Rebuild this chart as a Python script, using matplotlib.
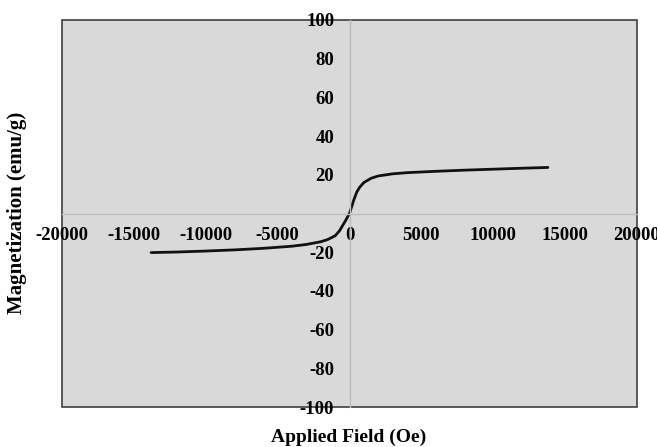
import matplotlib
matplotlib.use("Agg")
import matplotlib.pyplot as plt
import numpy as np

# Data (Applied Field in Oe, Magnetization in emu/g)
field = [-13800, -12000, -10000, -8000, -6000, -4000, -3000, -2000, -1500,
         -1000, -700, -500, -300, 0, 300, 500, 700, 1000, 1500, 2000, 3000,
         4000, 6000, 8000, 10000, 12000, 13800]
magnetization = [-20.2, -19.9, -19.4, -18.8, -18.0, -16.9, -16.0, -14.6, -13.4,
                 -11.5, -9.0, -6.5, -4.0, 0.0, 7.0, 11.0, 13.5, 16.0, 18.2, 19.4, 20.5,
                 21.1, 21.8, 22.4, 22.9, 23.4, 23.8]

x_ticks = [-20000, -15000, -10000, -5000, 0, 5000, 10000, 15000, 20000]
y_ticks = [-100, -80, -60, -40, -20, 20, 40, 60, 80, 100]
x_label = "Applied Field (Oe)"
y_label = "Magnetization (emu/g)"

plt.rcParams['font.family'] = ['Liberation Serif', 'DejaVu Serif']
plt.rcParams['font.weight'] = 'bold'

fig = plt.figure(figsize=(6.57, 4.47), dpi=100)
ax = fig.add_axes([62/657, 40/447, 575/657, 387/447])
ax.set_facecolor('#d9d9d9')
ax.patch.set_edgecolor('#404040')
ax.patch.set_linewidth(1.2)

ax.plot(field, magnetization, color='#111111', linewidth=2.0, solid_capstyle='round')

ax.set_xlim(-20000, 20000)
ax.set_ylim(-100, 100)

for s in ['top', 'right']:
    ax.spines[s].set_visible(False)
ax.spines['left'].set_position(('data', 0))
ax.spines['bottom'].set_position(('data', 0))
for s in ['left', 'bottom']:
    ax.spines[s].set_color('#bdbdbd')
    ax.spines[s].set_linewidth(1.0)

ax.set_xticks(x_ticks)
ax.set_xticklabels([str(v) for v in x_ticks])
ax.set_yticks(y_ticks)
ax.set_yticklabels([str(v) for v in y_ticks])
ax.tick_params(axis='x', length=0, pad=10, labelsize=13.5)
ax.tick_params(axis='y', length=0, pad=11, labelsize=13.5)
for lbl in ax.get_xticklabels() + ax.get_yticklabels():
    lbl.set_fontweight('bold')
    lbl.set_clip_on(False)

fig.text(349/657, 1 - 437/447, x_label, ha='center', va='center',
         fontsize=14, fontweight='bold')
fig.text(17/657, 1 - 213/447, y_label, ha='center', va='center',
         rotation=90, fontsize=15, fontweight='bold')

fig.savefig('out.png', dpi=100)
